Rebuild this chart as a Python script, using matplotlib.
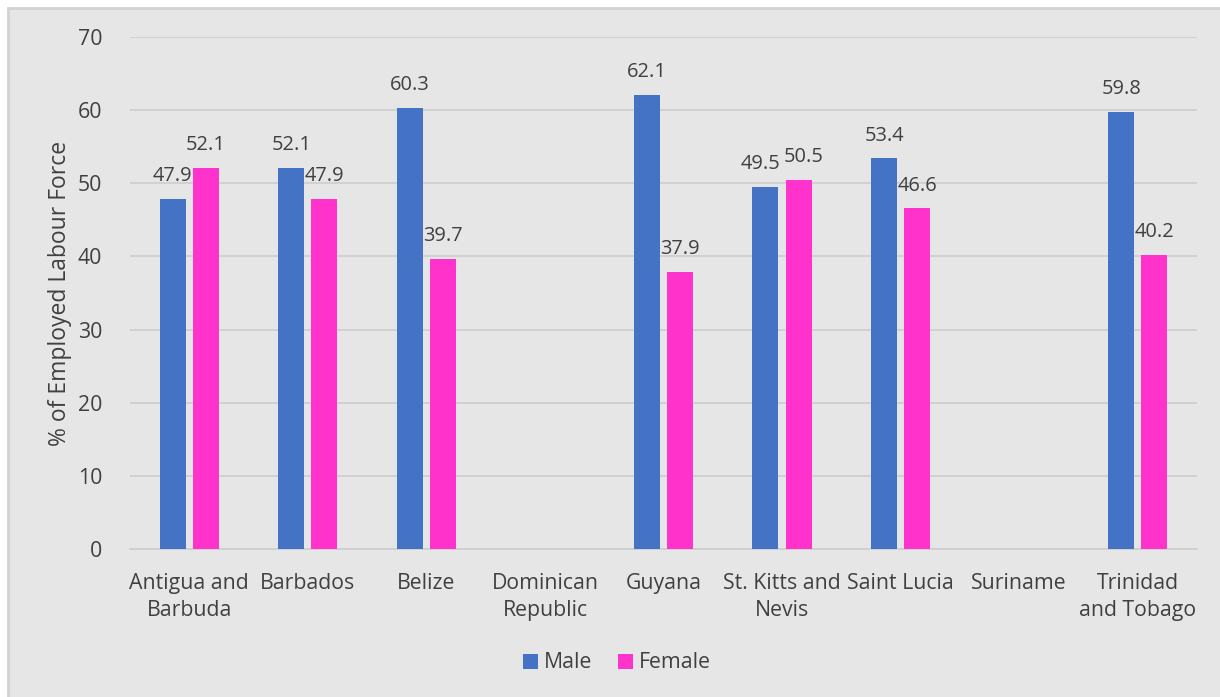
import numpy as np
import matplotlib
matplotlib.use("Agg")
import matplotlib.pyplot as plt
from matplotlib.patches import Rectangle

plt.rcParams['font.family'] = ['Open Sans', 'DejaVu Sans']

countries = ["Antigua and\nBarbuda", "Barbados", "Belize", "Dominican\nRepublic",
             "Guyana", "St. Kitts and\nNevis", "Saint Lucia", "Suriname",
             "Trinidad\nand Tobago"]
male = [47.9, 52.1, 60.3, np.nan, 62.1, 49.5, 53.4, np.nan, 59.8]
female = [52.1, 47.9, 39.7, np.nan, 37.9, 50.5, 46.6, np.nan, 40.2]

BLUE = "#4472C4"
PINK = "#FF33CC"
BG = "#E6E6E6"
TXT = "#404040"
FS = 15.3

W, H = 1220, 697
fig = plt.figure(figsize=(W / 100, H / 100), dpi=100)
fig.patch.set_facecolor("white")
fig.patches.append(Rectangle((8 / W, -0.01), 1.02, 1 - 8 / H + 0.01,
                             transform=fig.transFigure, facecolor=BG,
                             edgecolor="#D2D2D2", linewidth=2, zorder=-10))

ax = fig.add_axes([130 / W, 1 - 549 / H, (1197 - 130) / W, (549 - 37) / H])
ax.set_facecolor("none")

x = np.arange(len(countries))
bw = 0.22
off = 0.14
bm = ax.bar(x - off, male, bw, color=BLUE, label="Male", zorder=3)
bf = ax.bar(x + off, female, bw, color=PINK, label="Female", zorder=3)

# Value labels; pairs of nearly equal height are nudged apart so they stay legible
for sign, xs, vals, other in ((-1, x - off, male, female), (1, x + off, female, male)):
    for xi, v, o in zip(xs, vals, other):
        if np.isnan(v):
            continue
        dx = sign * 3.5 if abs(v - o) < 2.5 else 0
        ax.annotate(f"{v:.1f}", (xi, v), xytext=(dx, 9), textcoords="offset points",
                    ha="center", va="bottom", fontsize=14.4, color=TXT, zorder=4)

ax.set_xlim(-0.5, len(countries) - 0.5)
ax.set_ylim(0, 70)
ax.set_yticks(range(0, 71, 10))
ax.yaxis.grid(True, color="#CFCFCF", linewidth=1.3, zorder=0)
ax.set_axisbelow(True)
for s in ("top", "right", "left"):
    ax.spines[s].set_visible(False)
ax.spines["bottom"].set_color("#CFCFCF")
ax.spines["bottom"].set_linewidth(1.3)
ax.tick_params(axis="both", length=0, labelsize=FS, colors=TXT)
ax.tick_params(axis="y", pad=20)
ax.tick_params(axis="x", pad=17)
ax.set_xticks(x)
ax.set_xticklabels(countries, linespacing=1.4)
ax.set_ylabel("% of Employed Labour Force", fontsize=16.5, color=TXT, labelpad=4)

fig.legend(handles=[bm, bf], labels=["Male", "Female"], loc="center",
           bbox_to_anchor=(617 / W, 1 - 663 / H), ncol=2, frameon=False,
           fontsize=FS, labelcolor=TXT, handlelength=0.7, handleheight=0.7,
           handletextpad=0.3, columnspacing=1.2)

fig.savefig("out.png", dpi=100)
